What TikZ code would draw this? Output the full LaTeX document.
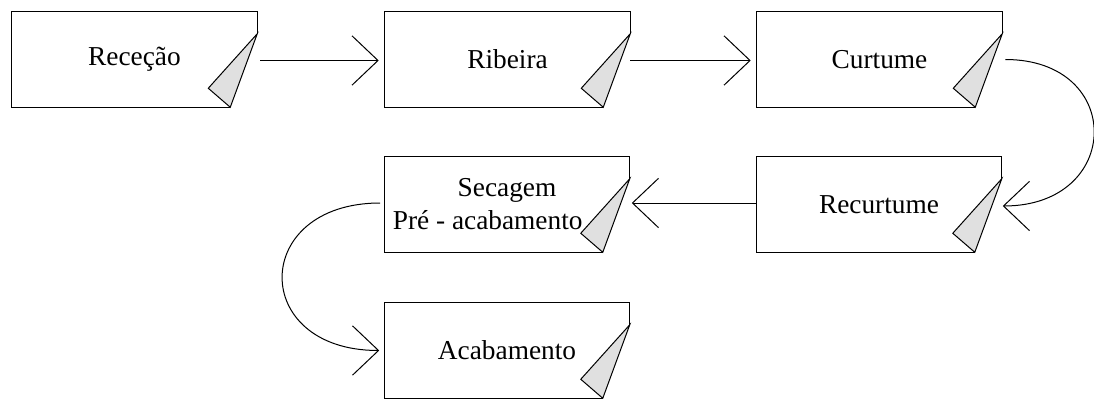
\documentclass[tikz,border=0pt]{standalone}
\usepackage{fontspec}
\setmainfont{Liberation Serif}
\usetikzlibrary{arrows.meta,calc}
\definecolor{foldgray}{RGB}{224,224,224}
\newcommand\foldbox[1]{%
  \draw[outline] ($(#1.south east)+(-27,0)$) -- (#1.south west) -- (#1.north west) -- (#1.north east) -- ($(#1.north east)+(0,22)$);
  \draw[outline,fill=foldgray] ($(#1.north east)+(0,22)$) -- ($(#1.south east)+(-27,0)$) -- ($(#1.south east)+(-49,-19)$) -- cycle;
}
\begin{document}
\begin{tikzpicture}[x=0.75pt,y=-0.75pt,
  box/.style={draw=none,minimum width=183.75pt,minimum height=71.25pt,inner sep=0pt,align=center,font=\fontsize{20.5}{24.75}\selectfont},
  outline/.style={line width=0.75pt,line join=miter},
  flow/.style={line width=0.75pt,-{Straight Barb[length=19.5pt,width=37pt,line width=0.75pt]}}]
\useasboundingbox (0,0) rectangle (1094,399);
\node[box] (a) at (134.5,59.5) {Receção};
\node[box] (b) at (507.5,59.5) {Ribeira};
\node[box] (c) at (879.5,59.5) {Curtume};
\node[box] (d) at (879,204.5) {Recurtume};
\node[box] (e) at (507,204.5) {Secagem\\Pré - acabamento\rule{29pt}{0pt}};
\node[box] (f) at (507,350.5) {Acabamento};
\foldbox{a}\foldbox{b}\foldbox{c}\foldbox{d}\foldbox{e}\foldbox{f}
\draw[flow,shorten <=2.25pt,shorten >=4.5pt] ($(a.east)+(0,1)$) -- ($(b.west)+(0,1)$);
\draw[flow,shorten <=0pt,shorten >=4.5pt] ($(b.east)+(0,1)$) -- ($(c.west)+(0,1)$);
\draw[flow] ($(c.east)+(3,0)$) .. controls ($(c.east)+(123,0)$) and ($(d.east)+(121,1.5)$) .. ($(d.east)+(1,1.5)$);
\draw[flow] ($(d.west)+(0,-1.5)$) -- ($(e.east)+(2,-1.5)$);
\draw[flow] ($(e.west)+(-4,-1.5)$) .. controls ($(e.west)+(-134,-1.5)$) and ($(f.west)+(-135,0)$) .. ($(f.west)+(-5,0)$);
\end{tikzpicture}
\end{document}
